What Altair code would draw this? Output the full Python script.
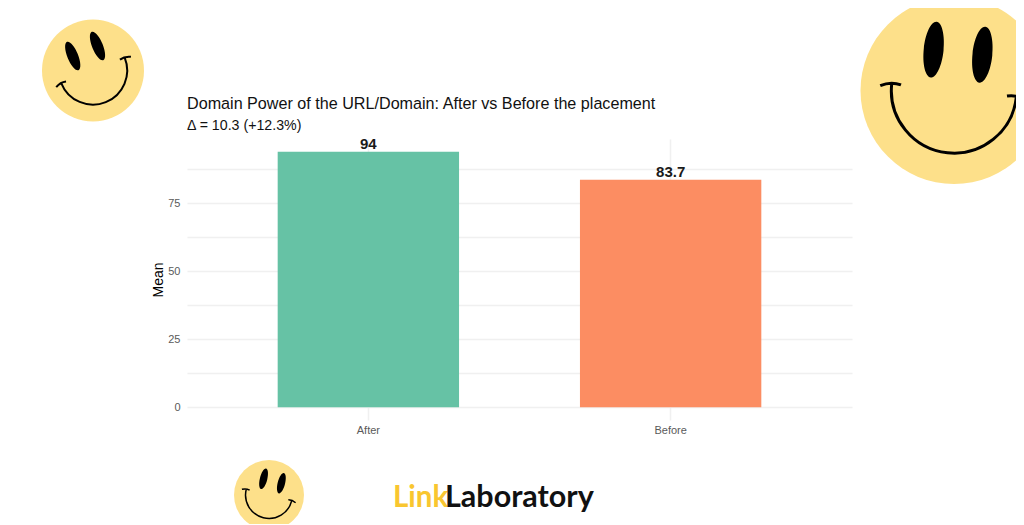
import altair as alt
import pandas as pd

categories = ["After", "Before"]
means = [94, 83.7]
bar_colors = ["#66C2A5", "#FC8D62"]
grid_values = [0, 12.5, 25, 37.5, 50, 62.5, 75, 87.5]

TITLE = "Domain Power of the URL/Domain: After vs Before the placement"
SUBTITLE = "Δ = 10.3 (+12.3%)"
FONT = "Liberation Sans"

# plot-area origin on the page, for placing the decorations
OX, OY = 187, 139

EYES = ("M -0.262 -0.712 A 0.106 0.3 0 0 1 -0.262 -0.112 A 0.106 0.3 0 0 1 -0.262 -0.712 Z "
        "M 0.262 -0.712 A 0.106 0.3 0 0 1 0.262 -0.112 A 0.106 0.3 0 0 1 0.262 -0.712 Z")
SMILE = ("M -0.67 0 A 0.67 0.67 0 0 0 0.67 0 "
         "M -0.79 0.03 Q -0.68 -0.03 -0.57 0 "
         "M 0.57 0 Q 0.68 -0.03 0.79 0.03")

table = pd.DataFrame({"group": categories, "mean": means})
one = pd.DataFrame({"a": [0]})


def at(px, py):
    return {"x": alt.value(px - OX), "y": alt.value(py - OY)}


def smiley(cx, cy, d, angle, sw):
    pos = at(cx, cy)
    size = d * d
    face = alt.Chart(one).mark_point(shape="circle", filled=True, color="#FDE08A", size=size, opacity=1).encode(**pos)
    eyes = alt.Chart(one).mark_point(shape=EYES, filled=True, color="#000000", size=size, angle=angle, opacity=1).encode(**pos)
    smile = alt.Chart(one).mark_point(shape=SMILE, filled=False, stroke="#000000", strokeWidth=sw, size=size, angle=angle, opacity=1).encode(**pos)
    return [face, eyes, smile]


def caption(text, px, py, size, font=FONT, weight="normal", color="#111111"):
    return alt.Chart(one).mark_text(text=text, font=font, fontSize=size, fontWeight=weight, color=color,
                                    align="left", baseline="alphabetic").encode(**at(px, py))


x_enc = alt.X("group:N", sort=categories, title=None,
              scale=alt.Scale(paddingInner=0.4, paddingOuter=0.3),
              axis=alt.Axis(grid=True, gridColor="#f0f0f0", gridWidth=1.5, domain=False, ticks=False,
                            labelAngle=0, labelFont=FONT, labelFontSize=11, labelColor="#5a5a5a",
                            labelPadding=4))
y_enc = alt.Y("mean:Q", title="Mean",
              scale=alt.Scale(domain=[-4.7, 98.7], nice=False, zero=False),
              axis=alt.Axis(values=grid_values, grid=True, gridColor="#f0f0f0", gridWidth=1.5,
                            domain=False, ticks=False,
                            labelExpr="datum.value % 25 == 0 ? format(datum.value, 'd') : ''",
                            labelFont=FONT, labelFontSize=11, labelColor="#5a5a5a", labelPadding=7,
                            titleFont=FONT, titleFontSize=14, titleFontWeight="normal", titleColor="#000000",
                            titlePadding=2))

bars = alt.Chart(table).mark_bar().encode(
    x=x_enc, y=y_enc,
    y2=alt.datum(0),
    color=alt.Color("group:N", scale=alt.Scale(domain=categories, range=bar_colors), legend=None),
)
labels = alt.Chart(table).mark_text(font=FONT, fontSize=15, fontWeight="bold", color="#1a1a1a",
                                    baseline="bottom", dy=0).encode(
    x=alt.X("group:N", sort=categories), y=alt.Y("mean:Q"), text=alt.Text("mean:Q"))

layers = [bars, labels]
layers += smiley(93, 70.5, 102, 338, 2)
layers += smiley(954, 90.5, 187, 6, 3)
layers += smiley(269, 495, 70, 14, 1.5)
layers += [
    caption(TITLE, 187, 109, 16.15),
    caption(SUBTITLE, 187, 130, 14.2),
    caption("Link", 393, 507, 29.5, font="Lato", weight="bold", color="#F9C62F"),
    caption("Laboratory", 445, 507, 30.5, font="Lato", weight="bold", color="#111111"),
]

chart = alt.layer(*layers).properties(
    width=665, height=281,
    padding={"left": 179, "top": 131, "right": 164, "bottom": 104},
    autosize=alt.AutoSizeParams(type="none"),
    background="#ffffff",
).configure_view(stroke=None)

chart.save("out.html", embed_options={"renderer": "svg", "actions": False})
